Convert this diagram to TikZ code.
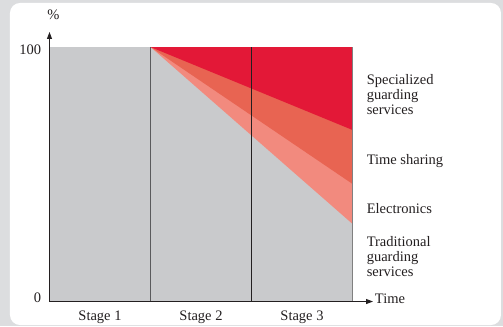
\documentclass[tikz,border=0pt]{standalone}
\usepackage{fontspec}
\setmainfont{Liberation Serif}
\usetikzlibrary{arrows.meta}
\definecolor{bggray}{HTML}{DCDDDF}
\definecolor{plotgray}{HTML}{C9CACC}
\definecolor{darkred}{HTML}{E31837}
\definecolor{midred}{HTML}{E86452}
\definecolor{lightred}{HTML}{F28A7E}
\definecolor{linegray}{HTML}{5A5A5C}
\definecolor{inkgray}{HTML}{231F20}
\begin{document}
\begin{tikzpicture}[x=101pt,y=2.545pt,
  lbl/.style={font=\fontsize{14.5}{15}\selectfont,inner sep=0pt,text=inkgray},
  axis/.style={draw=inkgray,line width=0.9pt,-{Triangle[length=7pt,width=5pt]}}]
% background panel
\fill[bggray](-0.49,-9.63)rectangle(4.49,118.47);
\fill[white,rounded corners=10pt](-0.391,-9.23)rectangle(4.47,117.3);
% shares
\fill[plotgray](0,0)rectangle(3,100);
\fill[lightred](1,100)--(3,100)--(3,30.5)--cycle;
\fill[midred](1,100)--(3,100)--(3,46.2)--cycle;
\fill[darkred](1,100)--(3,100)--(3,67.4)--cycle;
\draw[linegray,line width=0.9pt](1,0)--(1,100);
\draw[inkgray,line width=0.9pt](2,0)--(2,100);
\draw[gray,line width=0.8pt](3,0)--(3,100);
% axes
\coordinate(O)at(0,0);
\coordinate(ytip)at(0,105.9);
\coordinate(xtip)at(3.203,0);
\draw[axis](O)--(ytip);
\draw[axis](O)--(xtip);
\node[lbl](pct)at(0.04,112.6){\%};
\node[lbl,anchor=base east](hundred)at(-0.08,96.9){100};
\node[lbl,anchor=base east](zero)at(-0.08,-0.3){0};
\node[lbl,anchor=base west](time)at(3.22,-0.6){Time};
% stages
\node[lbl,anchor=base](st1)at(0.5,-7.3){Stage 1};
\node[lbl,anchor=base](st2)at(1.5,-7.3){Stage 2};
\node[lbl,anchor=base](st3)at(2.5,-7.3){Stage 3};
% legend (base = last line)
\node[lbl,anchor=base west,align=left](spec)at(3.139,73.6){Specialized\\guarding\\services};
\node[lbl,anchor=base west](share)at(3.139,54.0){Time sharing};
\node[lbl,anchor=base west](elec)at(3.139,34.4){Electronics};
\node[lbl,anchor=base west,align=left](trad)at(3.139,10.0){Traditional\\guarding\\services};
\end{tikzpicture}
\end{document}
